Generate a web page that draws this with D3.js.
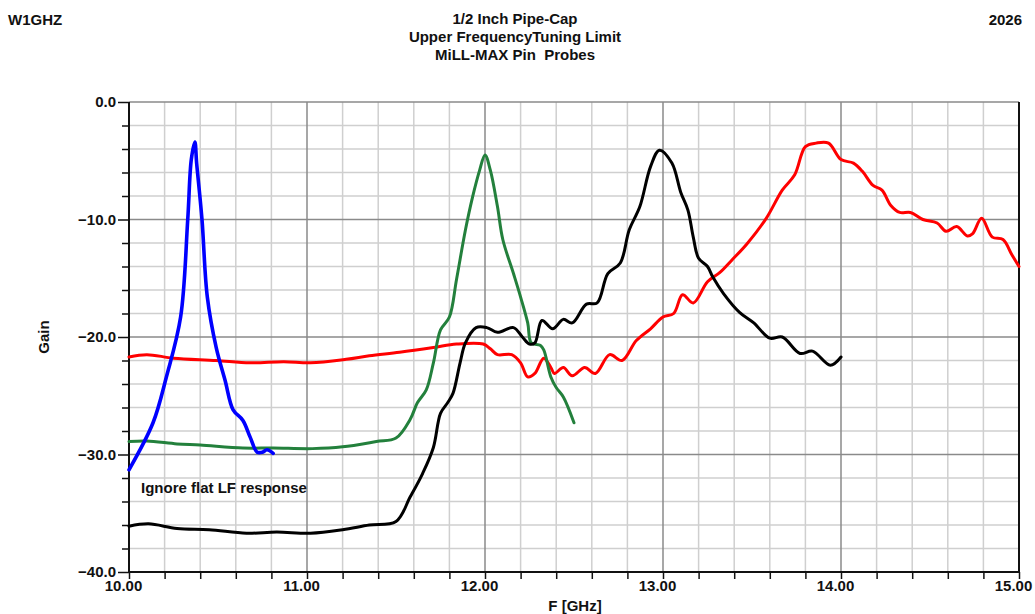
<!DOCTYPE html>
<html><head><meta charset="utf-8">
<script src="https://cdn.jsdelivr.net/npm/d3@7"></script>
<style>body{margin:0;background:#fff}svg{display:block}text{font-family:"Liberation Sans",Arial,sans-serif;font-weight:bold;fill:#111;white-space:pre}</style>
</head><body>
<script>
const titleLines = ["1/2 Inch Pipe-Cap", "Upper FrequencyTuning Limit", "MiLL-MAX Pin  Probes"];
const xTicks = [10, 11, 12, 13, 14, 15];
const yTicks = [0, -10, -20, -30, -40];

const blueF = [10.00,10.135,10.21,10.29,10.33,10.35,10.37,10.38,10.41,10.44,10.49,10.54,10.585,10.64,10.68,10.72,10.75,10.775,10.81];
const blueG = [-31.3,-27.3,-23.4,-18.3,-10.0,-4.9,-3.4,-5.2,-10.0,-16.6,-20.9,-23.7,-26.2,-27.1,-28.5,-29.8,-29.8,-29.6,-29.9];

const greenF = [10.00,10.10,10.27,10.40,10.64,10.81,11.03,11.20,11.39,11.50,11.58,11.62,11.67,11.71,11.75,11.80,11.84,11.89,11.93,11.97,12.00,12.03,12.07,12.10,12.16,12.20,12.24,12.26,12.31,12.33,12.37,12.40,12.44,12.50];
const greenG = [-28.9,-28.85,-29.1,-29.2,-29.45,-29.45,-29.5,-29.35,-28.9,-28.6,-27.0,-25.6,-24.5,-22.2,-19.4,-18.3,-15.1,-10.9,-8.1,-5.8,-4.5,-5.8,-8.9,-11.7,-14.6,-16.6,-18.8,-20.5,-20.7,-21.1,-23.4,-24.3,-25.1,-27.3];

const blackF = [10.00,10.11,10.27,10.45,10.66,10.83,11.02,11.20,11.35,11.50,11.58,11.65,11.71,11.75,11.79,11.82,11.86,11.89,11.95,12.01,12.07,12.16,12.21,12.25,12.28,12.32,12.38,12.44,12.49,12.57,12.63,12.69,12.76,12.81,12.87,12.93,12.98,13.05,13.10,13.14,13.17,13.20,13.25,13.28,13.34,13.43,13.51,13.60,13.67,13.77,13.84,13.94,14.00];
const blackG = [-36.1,-35.9,-36.3,-36.4,-36.7,-36.6,-36.7,-36.4,-36.0,-35.7,-33.6,-31.6,-29.4,-26.5,-25.6,-24.8,-22.2,-20.5,-19.2,-19.2,-19.6,-19.2,-20.0,-20.6,-20.5,-18.6,-19.3,-18.5,-18.8,-17.2,-17.1,-14.6,-13.7,-10.9,-8.9,-5.5,-4.1,-5.2,-7.7,-9.2,-11.5,-13.3,-14.0,-14.9,-16.3,-17.9,-18.8,-20.1,-20.0,-21.4,-21.2,-22.4,-21.7];

const redF = [10.00,10.10,10.25,10.49,10.68,10.87,11.02,11.22,11.35,11.52,11.71,11.84,11.99,12.03,12.07,12.15,12.20,12.24,12.28,12.33,12.37,12.39,12.44,12.49,12.56,12.62,12.70,12.77,12.85,12.93,13.00,13.06,13.11,13.17,13.25,13.32,13.39,13.47,13.58,13.67,13.74,13.80,13.86,13.93,14.00,14.07,14.12,14.18,14.23,14.28,14.33,14.39,14.46,14.54,14.59,14.65,14.71,14.74,14.79,14.85,14.91,14.96,15.00];
const redG = [-21.7,-21.5,-21.8,-22.0,-22.2,-22.1,-22.2,-21.9,-21.6,-21.3,-20.9,-20.6,-20.6,-21.0,-21.5,-21.5,-22.2,-23.4,-23.1,-21.8,-22.6,-23.1,-22.6,-23.3,-22.6,-23.1,-21.5,-22.0,-20.3,-19.3,-18.3,-18.0,-16.4,-17.1,-15.3,-14.5,-13.4,-12.1,-9.9,-7.5,-6.2,-3.8,-3.5,-3.5,-4.9,-5.2,-5.9,-7.1,-7.5,-8.8,-9.4,-9.4,-10.0,-10.3,-11.0,-10.6,-11.4,-11.2,-9.9,-11.5,-11.7,-13.0,-14.0];

const series = [
  {f: redF, g: redG, color: "#ff0000", w: 3},
  {f: greenF, g: greenG, color: "#23803c", w: 3},
  {f: blackF, g: blackG, color: "#000000", w: 3},
  {f: blueF, g: blueG, color: "#0000ff", w: 3.6}
];

const W = 1035, H = 614;
const x = d3.scaleLinear().domain([10, 15]).range([129, 1019]);
const y = d3.scaleLinear().domain([-40, 0]).range([572, 102]);

const svg = d3.select("body").append("svg").attr("width", W).attr("height", H);

// grid
const minorX = d3.range(0, 26).map(i => 10 + i * 0.2).filter(v => Math.abs(v - Math.round(v)) > 1e-6);
const minorY = d3.range(0, 21).map(i => -40 + i * 2).filter(v => v % 10 !== 0);
const majorX = [11, 12, 13, 14];
const majorY = [0, -10, -20, -30];

svg.append("g").selectAll("line").data(minorX).join("line")
  .attr("x1", d => x(d)).attr("x2", d => x(d)).attr("y1", y(0)).attr("y2", y(-40))
  .attr("stroke", "#cfcfcf").attr("stroke-width", 1.5);
svg.append("g").selectAll("line").data(minorY).join("line")
  .attr("x1", x(10)).attr("x2", x(15)).attr("y1", d => y(d)).attr("y2", d => y(d))
  .attr("stroke", "#cfcfcf").attr("stroke-width", 1.5);
svg.append("g").selectAll("line").data(majorX).join("line")
  .attr("x1", d => x(d)).attr("x2", d => x(d)).attr("y1", y(0)).attr("y2", y(-40))
  .attr("stroke", "#8a8a8a").attr("stroke-width", 1.5);
svg.append("g").selectAll("line").data(majorY).join("line")
  .attr("x1", x(10)).attr("x2", x(15)).attr("y1", d => y(d)).attr("y2", d => y(d))
  .attr("stroke", "#8a8a8a").attr("stroke-width", 1.5);

// axes
const yAxis = d3.axisLeft(y).tickValues(d3.range(-40, 1, 2)).tickSize(7)
  .tickFormat(d => yTicks.includes(d) ? d3.format(".1f")(d) : "");
const gy = svg.append("g").attr("transform", `translate(${x(10)},0)`).call(yAxis);
gy.select(".domain").remove();
gy.selectAll(".tick line").attr("stroke", "#111").attr("stroke-width", 1.5)
  .attr("x2", d => yTicks.includes(d) ? -11 : -7);
gy.selectAll(".tick text").attr("x", -13).attr("font-size", 15).attr("fill", "#111")
  .style("font-family", '"Liberation Sans",Arial,sans-serif').style("font-weight", "bold");

const xAxis = d3.axisBottom(x).tickValues(d3.range(0, 26).map(i => 10 + i * 0.2)).tickSize(7)
  .tickFormat(d => xTicks.some(t => Math.abs(t - d) < 1e-6) ? d3.format(".2f")(d) : "");
const gx = svg.append("g").attr("transform", `translate(0,${y(-40)})`).call(xAxis);
gx.select(".domain").remove();
gx.selectAll(".tick line").attr("stroke", "#111").attr("stroke-width", 1.5);
gx.selectAll(".tick text").attr("y", 8).attr("x", -6).attr("font-size", 15).attr("fill", "#111")
  .style("font-family", '"Liberation Sans",Arial,sans-serif').style("font-weight", "bold");

// frame
svg.append("line").attr("x1", x(10)).attr("x2", x(10)).attr("y1", y(0)).attr("y2", y(-40)+1).attr("stroke", "#111").attr("stroke-width", 2);
svg.append("line").attr("x1", x(10)-1).attr("x2", x(15)+1).attr("y1", y(-40)).attr("y2", y(-40)).attr("stroke", "#111").attr("stroke-width", 2);
svg.append("line").attr("x1", x(15)).attr("x2", x(15)).attr("y1", y(0)).attr("y2", y(-40)+1).attr("stroke", "#111").attr("stroke-width", 2);

// curves
const line = d3.line().x(d => x(d[0])).y(d => y(d[1])).curve(d3.curveCatmullRom.alpha(0.5));
series.forEach(s => {
  svg.append("path").datum(s.f.map((f, i) => [f, s.g[i]]))
    .attr("d", line).attr("fill", "none").attr("stroke", s.color)
    .attr("stroke-width", s.w).attr("stroke-linejoin", "round").attr("stroke-linecap", "round");
});

// texts
svg.append("g").selectAll("text").data(titleLines).join("text")
  .attr("x", 515).attr("y", (d, i) => 24 + i * 18).attr("text-anchor", "middle")
  .attr("font-size", 15).text(d => d);
svg.append("text").attr("x", 8).attr("y", 25).attr("font-size", 15).text("W1GHZ");
svg.append("text").attr("x", 1022).attr("y", 25).attr("font-size", 15).attr("text-anchor", "end").text("2026");
svg.append("text").attr("transform", "translate(49,337) rotate(-90)").attr("text-anchor", "middle")
  .attr("font-size", 15).text("Gain");
svg.append("text").attr("x", 575).attr("y", 611).attr("text-anchor", "middle").attr("font-size", 15).text("F [GHz]");
svg.append("text").attr("x", 141).attr("y", 493).attr("font-size", 15).text("Ignore flat LF response");
</script>
</body></html>
